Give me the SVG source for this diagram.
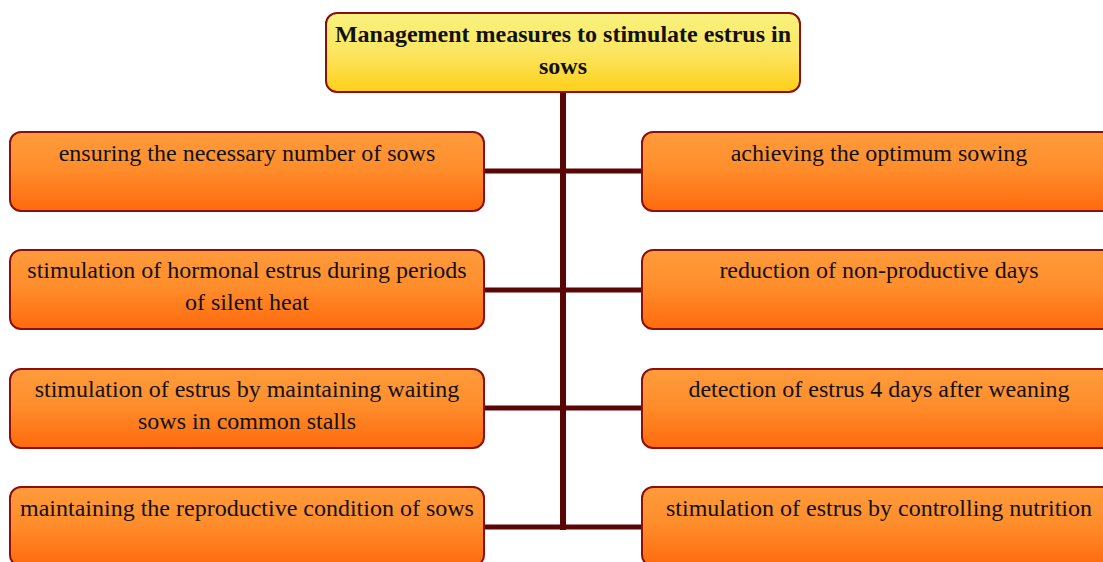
<svg xmlns="http://www.w3.org/2000/svg" width="1103" height="562" viewBox="0 0 1103 562">
  <defs>
    <linearGradient id="gOrange" x1="0" y1="0" x2="0" y2="1">
      <stop offset="0" stop-color="#ff9b3c"/>
      <stop offset="0.45" stop-color="#ff8e2c"/>
      <stop offset="1" stop-color="#ff6a0e"/>
    </linearGradient>
    <linearGradient id="gYellow" x1="0" y1="0" x2="0" y2="1">
      <stop offset="0" stop-color="#f9f27e"/>
      <stop offset="0.5" stop-color="#fbe660"/>
      <stop offset="1" stop-color="#ffcf18"/>
    </linearGradient>
    <style>
      .box { fill: url(#gOrange); stroke: #8a1010; stroke-width: 2; }
      .root { fill: url(#gYellow); stroke: #8a1010; stroke-width: 2; }
      .lbl { font-family: 'Liberation Serif', 'DejaVu Serif', serif; font-size: 24px; fill: #111; text-anchor: middle; }
      .ttl { font-family: 'Liberation Serif', 'DejaVu Serif', serif; font-size: 24px; font-weight: bold; fill: #111; text-anchor: middle; }
      .wire { stroke: #5a0606; fill: none; }
    </style>
  </defs>

  <!-- connectors: trunk and branches -->
  <g id="connectors">
    <line class="wire" x1="563" y1="92" x2="563" y2="530" stroke-width="6"/>
    <line class="wire" x1="484" y1="171" x2="642" y2="171" stroke-width="5"/>
    <line class="wire" x1="484" y1="290" x2="642" y2="290" stroke-width="5"/>
    <line class="wire" x1="484" y1="408" x2="642" y2="408" stroke-width="5"/>
    <line class="wire" x1="484" y1="527" x2="642" y2="527" stroke-width="5"/>
  </g>

  <g id="root">
    <rect class="root" x="326" y="13" width="474" height="79" rx="11"/>
    <text class="ttl" x="563" y="42">Management measures to stimulate estrus in</text>
    <text class="ttl" x="563" y="74">sows</text>
  </g>

  <!-- left column -->
  <g id="n-left-1">
    <rect class="box" x="10" y="132" width="474" height="79" rx="11"/>
    <text class="lbl" x="247" y="161">ensuring the necessary number of sows</text>
  </g>
  <g id="n-left-2">
    <rect class="box" x="10" y="250" width="474" height="79" rx="11"/>
    <text class="lbl" x="247" y="278">stimulation of hormonal estrus during periods</text>
    <text class="lbl" x="247" y="310">of silent heat</text>
  </g>
  <g id="n-left-3">
    <rect class="box" x="10" y="369" width="474" height="79" rx="11"/>
    <text class="lbl" x="247" y="397">stimulation of estrus by maintaining waiting</text>
    <text class="lbl" x="247" y="429">sows in common stalls</text>
  </g>
  <g id="n-left-4">
    <rect class="box" x="10" y="487" width="474" height="79" rx="11"/>
    <text class="lbl" x="247" y="516">maintaining the reproductive condition of sows</text>
  </g>

  <!-- right column -->
  <g id="n-right-1">
    <rect class="box" x="642" y="132" width="474" height="79" rx="11"/>
    <text class="lbl" x="879" y="161">achieving the optimum sowing</text>
  </g>
  <g id="n-right-2">
    <rect class="box" x="642" y="250" width="474" height="79" rx="11"/>
    <text class="lbl" x="879" y="278">reduction of non-productive days</text>
  </g>
  <g id="n-right-3">
    <rect class="box" x="642" y="369" width="474" height="79" rx="11"/>
    <text class="lbl" x="879" y="397">detection of estrus 4 days after weaning</text>
  </g>
  <g id="n-right-4">
    <rect class="box" x="642" y="487" width="474" height="79" rx="11"/>
    <text class="lbl" x="879" y="516">stimulation of estrus by controlling nutrition</text>
  </g>
</svg>
